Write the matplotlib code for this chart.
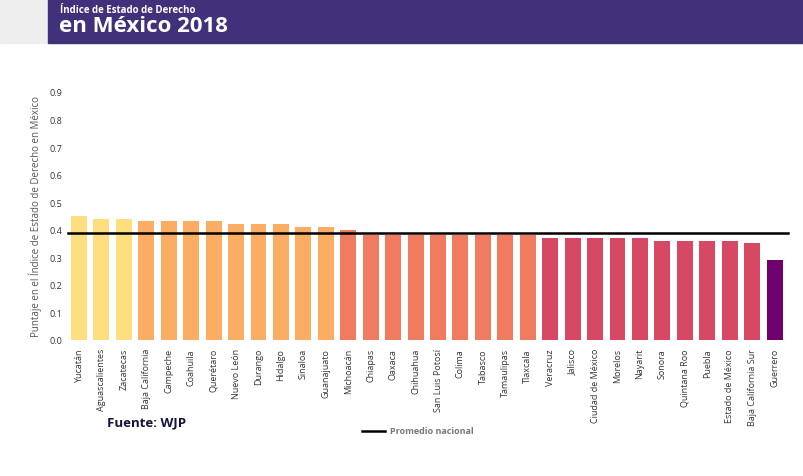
import matplotlib.pyplot as plt
from matplotlib.patches import Rectangle
from matplotlib.lines import Line2D

estados = ["Yucatán", "Aguascalientes", "Zacatecas", "Baja California", "Campeche",
           "Coahuila", "Querétaro", "Nuevo León", "Durango", "Hidalgo", "Sinaloa",
           "Guanajuato", "Michoacán", "Chiapas", "Oaxaca", "Chihuahua", "San Luis Potosí",
           "Colima", "Tabasco", "Tamaulipas", "Tlaxcala", "Veracruz", "Jalisco",
           "Ciudad de México", "Morelos", "Nayarit", "Sonora", "Quintana Roo", "Puebla",
           "Estado de México", "Baja California Sur", "Guerrero"]
puntaje = [0.45, 0.44, 0.44, 0.43, 0.43, 0.43, 0.43, 0.42, 0.42, 0.42, 0.41,
           0.41, 0.40, 0.38, 0.38, 0.38, 0.38, 0.38, 0.38, 0.38, 0.38, 0.37, 0.37,
           0.37, 0.37, 0.37, 0.36, 0.36, 0.36, 0.36, 0.35, 0.29]
promedio = 0.387
yticks = [0.0, 0.1, 0.2, 0.3, 0.4, 0.5, 0.6, 0.7, 0.8, 0.9]


def color_for(v):
    # color bins as in the original palette
    if v >= 0.44:
        return "#fddf80"
    if v >= 0.41:
        return "#fbad63"
    if v >= 0.38:
        return "#f07b5e"
    if v >= 0.33:
        return "#d64863"
    return "#6e0070"


plt.rcParams["font.family"] = ["Open Sans", "DejaVu Sans"]

fig = plt.figure(figsize=(8.04, 4.77), dpi=100)

# header banner
fig.patches.append(Rectangle((0, 1 - 44 / 477), 48 / 804, 44 / 477,
                             transform=fig.transFigure, color="#eeeeee", zorder=0))
fig.patches.append(Rectangle((48 / 804, 1 - 44 / 477), 1 - 48 / 804, 44 / 477,
                             transform=fig.transFigure, color="#41307a", zorder=0))
fig.text(60 / 804, 1 - 10.5 / 477, "Índice de Estado de Derecho", color="white",
         fontsize=7, fontweight="bold", va="center", ha="left")
fig.text(59 / 804, 1 - 26 / 477, "en México 2018", color="white",
         fontsize=16, fontweight="bold", va="center", ha="left")

ax = fig.add_axes([67.8 / 804, 1 - 340.7 / 477, 718 / 804, 247.7 / 477])
x = range(len(estados))
ax.bar(x, puntaje, width=0.71, color=[color_for(v) for v in puntaje], zorder=2)
ax.axhline(promedio, color="black", lw=1.8, zorder=3, xmin=0, xmax=1.003, clip_on=False)

ax.set_xlim(-0.5, len(estados) - 0.5)
ax.set_ylim(0, 0.9)
ax.set_yticks(yticks)
ax.set_yticklabels([f"{t:.1f}" for t in yticks])
ax.set_xticks(list(x))
ax.set_xticklabels(estados, rotation=90)
ax.tick_params(axis="both", length=0, labelsize=6.5, colors="#333333")
ax.tick_params(axis="y", pad=4)
ax.tick_params(axis="x", pad=6)
for s in ax.spines.values():
    s.set_visible(False)
ax.set_ylabel("Puntaje en el Índice de Estado de Derecho en México", fontsize=7,
              color="#555555", labelpad=5)

fig.text(107 / 804, 1 - 423 / 477, "Fuente: WJP", color="#14143c", fontsize=9.5,
         fontweight="bold", va="center", ha="left")
fig.lines.append(Line2D([362 / 804, 385 / 804], [1 - 432 / 477, 1 - 432 / 477],
                        transform=fig.transFigure, color="black", lw=1.8))
fig.text(390 / 804, 1 - 432 / 477, "Promedio nacional", color="#777777", fontsize=6.5,
         fontweight="bold", va="center", ha="left")

fig.savefig("out.png", dpi=100)
